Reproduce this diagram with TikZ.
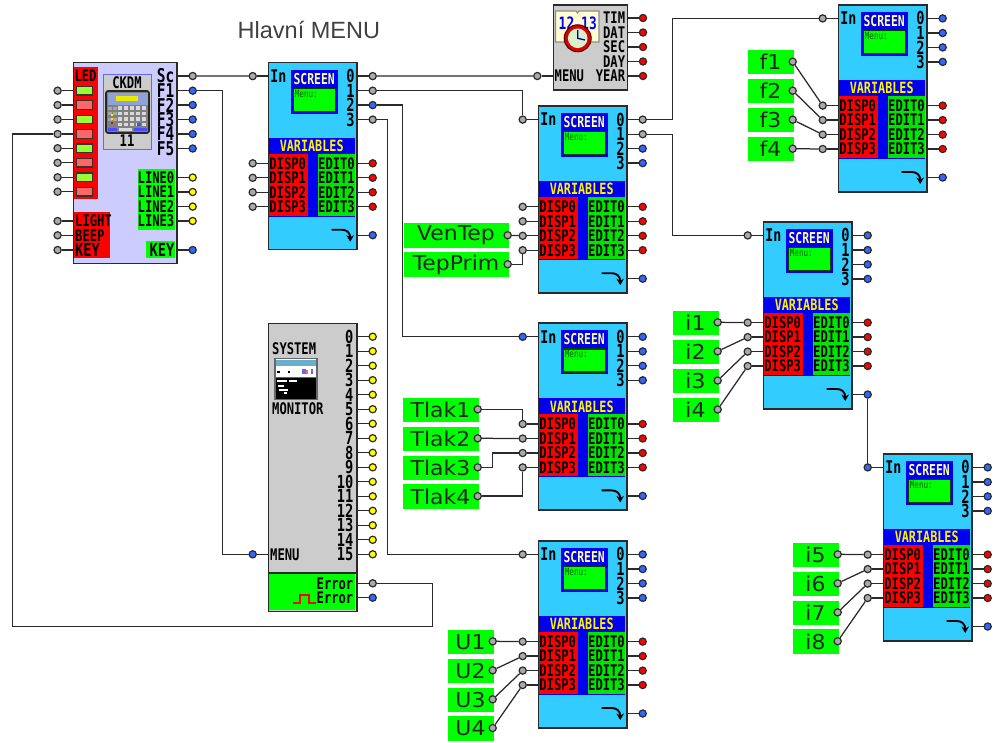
\documentclass[tikz,border=0pt]{standalone}
\usepackage{fontspec}
\usetikzlibrary{arrows.meta,calc}
\setmainfont{Liberation Sans}
\newfontfamily\pix[FakeStretch=0.76]{DejaVu Sans Mono}
\newfontfamily\lab[FakeStretch=1.07]{DejaVu Sans}
\definecolor{cyanb}{HTML}{33CCFF}
\definecolor{bandblue}{HTML}{0000EE}
\definecolor{rd}{HTML}{FF0000}
\definecolor{gn}{HTML}{00FF00}
\definecolor{lav}{HTML}{CCCCFF}
\definecolor{gy}{HTML}{CCCCCC}
\definecolor{pgray}{HTML}{AAAAAA}
\definecolor{pblue}{HTML}{3366FF}
\definecolor{pyel}{HTML}{FFFF00}
\definecolor{pred}{HTML}{FF0000}
\definecolor{dk}{HTML}{2A2A2A}
\definecolor{scr}{HTML}{FFFFAA}
\definecolor{ledon}{HTML}{99FF33}
\definecolor{ledoff}{HTML}{FF6666}
\tikzset{
 blockbox/.style={draw=dk,line width=1.5pt,anchor=north west,inner sep=0pt,minimum width=#1},
 wire/.style={draw=dk,line width=1.25pt},
 pinn/.style={circle,draw=dk,line width=1.2pt,inner sep=0pt,minimum size=7.2pt,fill=#1},
 pixr/.style={anchor=east,inner sep=0pt,text=black,font=\pix\bfseries\fontsize{16}{16}\selectfont},
 pixl/.style={anchor=west,inner sep=0pt,text=black,font=\pix\bfseries\fontsize{16}{16}\selectfont},
 pixc/.style={anchor=center,inner sep=0pt,text=black,font=\pix\bfseries\fontsize{16}{16}\selectfont},
 greenlab/.style={fill=gn,anchor=north west,inner sep=0pt,minimum height=24.4pt,text=black!85,font=\lab\fontsize{20.5}{20.5}\selectfont},
}
% row helpers inside a shifted scope
\newcommand\rightpin[4]{% name, host, y, colour
 \node[pinn=#4] (#1) at (105,#3) {};
 \draw[wire] (#1) -- (#1 -| #2.east);}
\newcommand\leftpin[3]{% name, host, y
 \node[pinn=pgray] (#1) at (-15,#3) {};
 \draw[wire] (#1) -- (#1 -| #2.west);}
\newcommand\screenblock[8]{%
\begin{scope}[shift={(#2,#3)}]
 \node[blockbox=88.5pt,minimum height=187pt,fill=cyanb] (#1) at (0,0) {};
 \fill[bandblue] (0.8,76) rectangle (87.7,155);
 \fill[rd] (0.8,92) rectangle (40,154);
 \fill[gn!90!black] (50.3,92) rectangle (87.7,154);
 \fill[bandblue] (23,8) rectangle (70,52);
 \draw[fill=gn,draw=black!75!green,line width=1.2pt] (26,26.5) rectangle (68,49.5);
 \node[pixc,text=scr,font=\pix\bfseries\fontsize{15}{15}\selectfont] (#1-scr) at (46.5,17) {SCREEN};
 \node[anchor=west,inner sep=0pt,text=black!60!green,font=\pix\fontsize{10}{10}\selectfont] (#1-menu) at (27,32) {Menu:};
 \node[pixc,text=yellow,font=\pix\bfseries\fontsize{15.5}{15.5}\selectfont] (#1-var) at (44,84) {VARIABLES};
 \node[pixl,font=\pix\bfseries\fontsize{17.5}{17.5}\selectfont] (#1-tin) at (2.5,14.4) {In};
 \node[pixr,font=\pix\bfseries\fontsize{18}{18}\selectfont] (#1-t0) at (87,14.4) {0};
 \node[pixr,font=\pix\bfseries\fontsize{18}{18}\selectfont] (#1-t1) at (87,29) {1};
 \node[pixr,font=\pix\bfseries\fontsize{18}{18}\selectfont] (#1-t2) at (87,43.4) {2};
 \node[pixr,font=\pix\bfseries\fontsize{18}{18}\selectfont] (#1-t3) at (87,57.9) {3};
 \foreach \i/\yy in {0/101.6,1/116.1,2/130.6,3/145}{
  \node[pixl] (#1-td\i) at (1.5,\yy) {DISP\i};
  \node[pixr] (#1-te\i) at (87.3,\yy) {EDIT\i};
  \leftpin{#1-d\i}{#1}{\yy}
  \rightpin{#1-e\i}{#1}{\yy}{pred}
 }
 \node[pinn=#4] (#1-in) at (-15,14.4) {};
 \draw[wire] (#1-in) -- (#1-in -| #1.west);
 \rightpin{#1-o0}{#1}{14.4}{#5}
 \rightpin{#1-o1}{#1}{29}{#6}
 \rightpin{#1-o2}{#1}{43.4}{#7}
 \rightpin{#1-o3}{#1}{57.9}{#8}
 \rightpin{#1-x}{#1}{173.5}{pblue}
 \draw[black,line width=1.9pt,-{Stealth[length=6.5pt,width=7.5pt]}] (64,168) -- (74,168) .. controls (79,168) and (82.5,171) .. (82.5,180);
\end{scope}}
\newcommand\greenbox[5]{% id x y width text
 \node[greenlab,minimum width=#4pt] (#1) at (#2,#3) {#5};
 \node[pinn=pgray] (#1-p) at (#2+#4-0.6,#3+12) {};}
\begin{document}
\begin{tikzpicture}[x=1pt,y=-1pt]
\useasboundingbox (0,0) rectangle (999,742);
\fill[white] (0,0) rectangle (999,742);

\node[anchor=base west,inner sep=0pt,text=black!75,font=\fontsize{23.5}{23.5}\selectfont] (title) at (237.5,38.5) {Hlavní MENU};

% ---------- CKDM block
\node[blockbox=103.3pt,minimum height=201pt,fill=lav] (ck) at (72.7,61.7) {};
\fill[rd] (73.5,67) rectangle (98,199);
\fill[rd] (73.5,212) rectangle (110,258);
\fill[gn] (138,169) rectangle (175,230);
\fill[gn] (146,241) rectangle (175,258);
\node[pixc] (ck-led) at (85.5,76) {LED};
\foreach \i/\yy/\cc in {1/90.7/ledon,2/105/ledoff,3/119.5/ledon,4/134/ledoff,5/148.2/ledon,6/162.8/ledoff,7/177.3/ledon,8/191.7/ledoff}{
 \draw[line width=1.3pt,draw=black!80,fill=\cc] (76.5,\yy-4.2) rectangle (92.5,\yy+4.2);
 \node[pinn=pgray] (ck-l\i) at (57.6,\yy) {};
 \draw[wire] (ck-l\i) -- (ck-l\i -| ck.west);
}
\foreach \i/\yy/\tt in {1/221/LIGHT,2/235.3/BEEP,3/250/KEY}{
 \node[pixl,font=\pix\bfseries\fontsize{\ifnum\i=3 18\else 16\fi}{16}\selectfont] (ck-c\i) at (75,\yy) {\tt};
 \node[pinn=pgray] (ck-k\i) at (57.6,\yy) {};
 \draw[wire] (ck-k\i) -- (ck-k\i -| ck.west);
}
\foreach \i/\yy/\tt in {sc/76/Sc,f1/90.7/F1,f2/105/F2,f3/119.5/F3,f4/134/F4,f5/148.5/F5}{
 \node[pixr,font=\pix\bfseries\fontsize{19}{19}\selectfont] (ck-t\i) at (174.5,\yy) {\tt};
}
\foreach \i/\yy/\cc in {sc/76/pgray,f1/90.7/pblue,f2/105/pblue,f3/119.5/pblue,f4/134/pblue,f5/148.5/pblue}{
 \node[pinn=\cc] (ck-\i) at (192.7,\yy) {};
 \draw[wire] (ck-\i) -- (ck-\i -| ck.east);
}
\foreach \i/\yy in {0/177.5,1/192,2/206.6,3/221}{
 \node[pixr] (ck-tl\i) at (174.5,\yy) {LINE\i};
 \node[pinn=pyel] (ck-line\i) at (192.7,\yy) {};
 \draw[wire] (ck-line\i) -- (ck-line\i -| ck.east);
}
\node[pixr,font=\pix\bfseries\fontsize{18}{18}\selectfont] (ck-tkey) at (174.5,250) {KEY};
\node[pinn=pblue] (ck-key) at (192.7,250) {};
\draw[wire] (ck-key) -- (ck-key -| ck.east);
% calculator icon
\draw[draw=blue!50!lav,line width=1pt,fill=gy] (103,74.5) rectangle (151,149);
\node[pixc,font=\pix\bfseries\fontsize{16}{16}\selectfont] (ck-name) at (127,83) {CKDM};
\node[pixc,font=\pix\bfseries\fontsize{16}{16}\selectfont] (ck-num) at (127,141) {11};
\draw[draw=black!85,fill=black!50,line width=1.6pt,rounded corners=2pt] (106,91) rectangle (149,133);
\fill[cyan!35!blue!45!white] (107.5,92.5) rectangle (147.5,105);
\fill[yellow!60!lime] (116,96) rectangle (138,101);
\foreach \xx in {120,126,132,138,144}{\foreach \yy in {108,113.5,119,124.5}{
 \fill[white!85!black] (\xx-2.2,\yy-1.8) rectangle (\xx+2.2,\yy+1.8);}}
\foreach \yy in {108,113.5,119}{\foreach \xx in {110,115}{
 \fill[black!35] (\xx-2,\yy-1.5) rectangle (\xx+2,\yy+1.5);}}
\fill[yellow] (111,114) rectangle (113,116);
\fill[lime] (111,118) rectangle (113,120);
\fill[red] (111,122) rectangle (113,124);
\fill[blue!70!white] (108,127.5) rectangle (117,131);
\fill[blue!70!white] (137,122.5) rectangle (141,126);
\fill[white!85!black] (119,127.5) rectangle (132,131);
\fill[blue!70!white] (134,127.5) rectangle (147,131);

% ---------- monitor block
\node[blockbox=88.5pt,minimum height=288pt,fill=gy] (mon) at (267.7,322.7) {};
\fill[gn] (268.5,573.5) rectangle (355.3,610);
\draw[dk,line width=1.3pt] (268,573) -- (356,573);
\node[pixl] (mon-s) at (272,349) {SYSTEM};
\node[pixl] (mon-m) at (272,409) {MONITOR};
\fill[black!60] (274,357.5) rectangle (317.5,400);
\fill[white] (275.5,359) rectangle (316,376.5);
\fill[cyan!70!black!70] (275.5,359.5) rectangle (316,366);
\fill[black] (275.5,378) rectangle (316,398.5);
\foreach \xx/\yy/\w in {277/380/10,289/380/8,278/385/6,279/389/9,284/392/3}{\fill[white] (\xx,\yy) rectangle (\xx+\w,\yy+1.5);}
\fill[blue!60] (302,369) rectangle (306,374);
\fill[red!60] (306,370) rectangle (308,374);
\fill[blue!60] (311,369) rectangle (313,374);
\fill[black] (288,371) rectangle (290,373);
\fill[black] (277,371) rectangle (280,372.5);
\foreach \i/\yy in {0/336.7,1/351.2,2/365.7,3/380.2,4/394.7,5/409.2,6/423.7,7/438.2,8/452.8,9/467.3,10/481.8,11/496.3,12/510.8,13/525.3,14/539.8,15/554.3}{
 \node[pixr,font=\pix\bfseries\fontsize{18}{18}\selectfont] (mon-t\i) at (353.5,\yy) {\i};
 \node[pinn=pyel] (mon-o\i) at (372.7,\yy) {};
 \draw[wire] (mon-o\i) -- (mon-o\i -| mon.east);
}
\node[pixl] (mon-tmenu) at (270,554.3) {MENU};
\node[pinn=pblue] (mon-menu) at (252.7,554.3) {};
\draw[wire] (mon-menu) -- (mon-menu -| mon.west);
\node[pixr,font=\pix\bfseries\fontsize{16}{16}\selectfont] (mon-te1) at (353.5,583.5) {Error};
\node[pixr,font=\pix\bfseries\fontsize{16}{16}\selectfont] (mon-te2) at (353.5,598) {Error};
\draw[red,line width=1.1pt] (293,603) -- (300,603) -- (300,595) -- (309,595) -- (309,603) -- (316,603);
\node[pinn=pgray] (mon-err) at (372.7,583.3) {};
\draw[wire] (mon-err) -- (mon-err -| mon.east);
\node[pinn=pblue] (mon-imp) at (372.7,597.7) {};
\draw[wire] (mon-imp) -- (mon-imp -| mon.east);

% ---------- clock block
\node[blockbox=74pt,minimum height=85.3pt,fill=gy] (clk) at (552.7,4) {};
\draw[draw=black!45,fill=yellow!18,line width=1.1pt] (555.5,11) -- (576,11) -- (577.5,13) -- (579,11) -- (599,11) -- (599,42) -- (555.5,42) -- cycle;
\node[anchor=center,inner sep=0pt,text=blue,font=\pix\bfseries\fontsize{17}{17}\selectfont] (clk-12) at (566.5,23) {12};
\node[anchor=center,inner sep=0pt,text=blue,font=\pix\bfseries\fontsize{17}{17}\selectfont] (clk-13) at (589,23) {13};
\draw[draw=black!70!red,line width=1pt,fill=red!85!black] (577.7,38.3) circle (13.5);
\fill[yellow!25!green!20!white] (577.7,38.3) circle (9.8);
\draw[blue!60!black,line width=1.3pt] (577.7,30) -- (577.7,38.3) -- (585,40);
\foreach \i/\yy/\tt in {1/18/TIM,2/32.5/DAT,3/47/SEC,4/61.5/DAY,5/76/YEAR}{
 \node[pixr] (clk-t\i) at (625.3,\yy) {\tt};
 \node[pinn=pred] (clk-o\i) at (643,\yy) {};
 \draw[wire] (clk-o\i) -- (clk-o\i -| clk.east);
}
\node[pixl] (clk-tm) at (554.5,76) {MENU};
\node[pinn=pgray] (clk-menu) at (537.3,76) {};
\draw[wire] (clk-menu) -- (clk-menu -| clk.west);

% ---------- screen blocks
\screenblock{bA}{267.7}{61.7}{pgray}{pgray}{pgray}{pblue}{pgray}
\screenblock{bB}{537.7}{105.2}{pgray}{pgray}{pgray}{pblue}{pblue}
\screenblock{bC}{537.7}{322.4}{pblue}{pblue}{pblue}{pblue}{pblue}
\screenblock{bD}{537.7}{540}{pgray}{pblue}{pblue}{pblue}{pblue}
\screenblock{bE}{837.7}{4}{pgray}{pblue}{pblue}{pblue}{pblue}
\screenblock{bF}{762.7}{221}{pgray}{pblue}{pblue}{pblue}{pblue}
\screenblock{bG}{882.7}{453}{pblue}{pblue}{pblue}{pblue}{pblue}

% ---------- green labels
\greenbox{ven}{403.3}{223.2}{105}{VenTep}
\greenbox{tep}{403.3}{252.2}{105}{TepPrim}
\foreach \n/\t/\yy in {tl1/Tlak1/397.3,tl2/Tlak2/426.3,tl3/Tlak3/455.3,tl4/Tlak4/484.1}{\greenbox{\n}{402.3}{\yy}{76}{\t}}
\foreach \n/\t/\yy in {u1/U1/629.3,u2/U2/658.3,u3/U3/687.3,u4/U4/716}{\greenbox{\n}{447.3}{\yy}{46}{\t}}
\foreach \n/\t/\yy in {f1/f1/49.7,f2/f2/78.7,f3/f3/107.7,f4/f4/136.7}{\greenbox{\n}{747.3}{\yy}{46}{\t}}
\foreach \n/\t/\yy in {i1/i1/310.3,i2/i2/339.3,i3/i3/368.5,i4/i4/397.5}{\greenbox{\n}{672.3}{\yy}{46}{\t}}
\foreach \n/\t/\yy in {i5/i5/542.3,i6/i6/571.3,i7/i7/600.3,i8/i8/629.2}{\greenbox{\n}{792.3}{\yy}{46}{\t}}

% ---------- routing corners
\coordinate (cF1) at (222.7,300);
\coordinate (c2) at (402.3,200);
\coordinate (c3) at (387.4,300);
\coordinate (c4) at (672.3,70);
\coordinate (c5) at (672.3,180);
\coordinate (cE1) at (432.7,626.7);
\coordinate (cE2) at (12.7,134);
\coordinate (cT3) at (492.7,460);

% ---------- connectors
\draw[wire] (ck-sc) -- (bA-in);
\draw[wire] (ck-f1) -| (cF1) |- (mon-menu);
\draw[wire] (bA-o0) -- (clk-menu);
\draw[wire] (bA-o1) -| (bB-in);
\draw[wire] (bA-o2) -| (c2) |- (bC-in);
\draw[wire] (bA-o3) -| (c3) |- (bD-in);
\draw[wire] (bB-o0) -| (c4) |- (bE-in);
\draw[wire] (bB-o1) -| (c5) |- (bF-in);
\draw[wire] (bF-x) -- (bG-in);
\draw[wire] (mon-err) -| (cE1) -| (cE2) -- (ck-l4);
\draw[wire] (ven-p) -- (bB-d2);
\draw[wire] (tep-p) -| (bB-d3);
\draw[wire] (tl1-p) -| (bC-d0);
\draw[wire] (tl2-p) -- (bC-d1);
\draw[wire] (tl3-p) -| (cT3) |- (bC-d2);
\draw[wire] (tl4-p) -| (bC-d3);
\foreach \a/\b in {u1/d0,u2/d1,u3/d2,u4/d3}{\draw[wire] (\a-p) -- (bD-\b);}
\foreach \a/\b in {f1/d0,f2/d1,f3/d2,f4/d3}{\draw[wire] (\a-p) -- (bE-\b);}
\foreach \a/\b in {i1/d0,i2/d1,i3/d2,i4/d3}{\draw[wire] (\a-p) -- (bF-\b);}
\foreach \a/\b in {i5/d0,i6/d1,i7/d2,i8/d3}{\draw[wire] (\a-p) -- (bG-\b);}
\end{tikzpicture}
\end{document}
